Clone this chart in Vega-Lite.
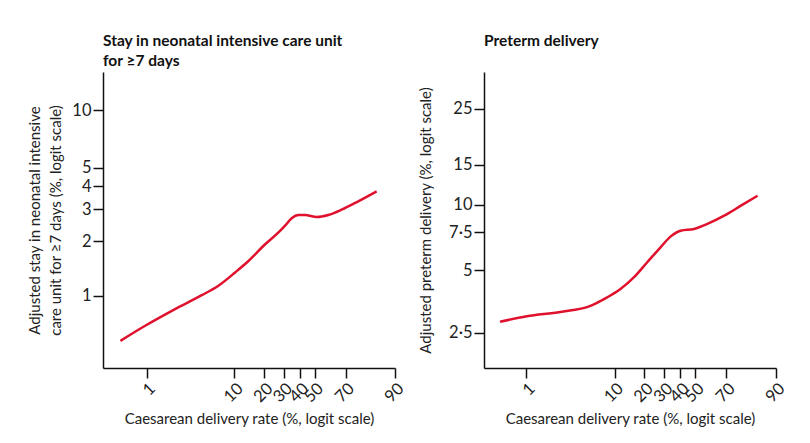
{
  "$schema": "https://vega.github.io/schema/vega-lite/v6.json",
  "background": "white",
  "padding": {"left": 27, "top": 33, "right": 5, "bottom": 5},
  "datasets": {
    "nicu": [
      {"caesarean_rate": 0.49, "outcome": 0.563},
      {"caesarean_rate": 0.96, "outcome": 0.683},
      {"caesarean_rate": 2.15, "outcome": 0.845},
      {"caesarean_rate": 4.36, "outcome": 1.01},
      {"caesarean_rate": 6.71, "outcome": 1.14},
      {"caesarean_rate": 10.2, "outcome": 1.35},
      {"caesarean_rate": 14.05, "outcome": 1.56},
      {"caesarean_rate": 20.5, "outcome": 1.93},
      {"caesarean_rate": 27.1, "outcome": 2.24},
      {"caesarean_rate": 30.8, "outcome": 2.44},
      {"caesarean_rate": 34.8, "outcome": 2.68},
      {"caesarean_rate": 39.1, "outcome": 2.79},
      {"caesarean_rate": 43.4, "outcome": 2.79},
      {"caesarean_rate": 51.4, "outcome": 2.72},
      {"caesarean_rate": 59.2, "outcome": 2.79},
      {"caesarean_rate": 67.6, "outcome": 2.98},
      {"caesarean_rate": 76.7, "outcome": 3.31},
      {"caesarean_rate": 84.5, "outcome": 3.75}
    ],
    "preterm": [
      {"caesarean_rate": 0.49, "outcome": 2.83},
      {"caesarean_rate": 1.01, "outcome": 3.01},
      {"caesarean_rate": 2.47, "outcome": 3.16},
      {"caesarean_rate": 5.45, "outcome": 3.38},
      {"caesarean_rate": 8.32, "outcome": 3.71},
      {"caesarean_rate": 11.55, "outcome": 4.07},
      {"caesarean_rate": 15.8, "outcome": 4.62},
      {"caesarean_rate": 21.3, "outcome": 5.45},
      {"caesarean_rate": 28.0, "outcome": 6.40},
      {"caesarean_rate": 33.9, "outcome": 7.19},
      {"caesarean_rate": 40.2, "outcome": 7.64},
      {"caesarean_rate": 49.2, "outcome": 7.78},
      {"caesarean_rate": 58.2, "outcome": 8.20},
      {"caesarean_rate": 68.7, "outcome": 8.94},
      {"caesarean_rate": 77.6, "outcome": 9.92},
      {"caesarean_rate": 84.5, "outcome": 10.98}
    ]
  },
  "spacing": 89,
  "bounds": "flush",
  "hconcat": [
    {
      "data": {"name": "nicu"},
      "width": 292,
      "height": 296,
      "title": {"text": ["Stay in neonatal intensive care unit", "for ≥7 days"], "offset": 3, "lineHeight": 20},
      "transform": [
        {"calculate": "log(datum.caesarean_rate/(100-datum.caesarean_rate))", "as": "logit_x"},
        {"calculate": "log(datum.outcome/(100-datum.outcome))", "as": "logit_y"}
      ],
      "mark": {"type": "line", "interpolate": "monotone", "color": "#e0112d", "strokeWidth": 2.5},
      "encoding": {
        "x": {
          "field": "logit_x", "type": "quantitative",
          "scale": {"domain": [-5.79, 2.1973], "nice": false, "zero": false},
          "axis": {
            "title": "Caesarean delivery rate (%, logit scale)",
            "values": [-4.59512, -2.19722, -1.38629, -0.847298, -0.405465, 0, 0.847298, 2.19722],
            "labelExpr": "replace(toString(round(200/(1+exp(-datum.value)))/2), '.', '·')",
            "labelAngle": -45
          }
        },
        "y": {
          "field": "logit_y", "type": "quantitative",
          "scale": {"domain": [-5.524, -1.707], "nice": false, "zero": false},
          "axis": {
            "title": ["Adjusted stay in neonatal intensive", "care unit for ≥7 days (%, logit scale)"],
            "titleLineHeight": 21,
            "titlePadding": 8,
            "values": [-4.59512, -3.89182, -3.47610, -3.17805, -2.94444, -2.19722],
            "labelExpr": "replace(toString(round(200/(1+exp(-datum.value)))/2), '.', '·')"
          }
        }
      }
    },
    {
      "data": {"name": "preterm"},
      "width": 292,
      "height": 296,
      "title": {"text": "Preterm delivery", "offset": 23},
      "transform": [
        {"calculate": "log(datum.caesarean_rate/(100-datum.caesarean_rate))", "as": "logit_x"},
        {"calculate": "log(datum.outcome/(100-datum.outcome))", "as": "logit_y"}
      ],
      "mark": {"type": "line", "interpolate": "monotone", "color": "#e0112d", "strokeWidth": 2.5},
      "encoding": {
        "x": {
          "field": "logit_x", "type": "quantitative",
          "scale": {"domain": [-5.75, 2.1973], "nice": false, "zero": false},
          "axis": {
            "title": "Caesarean delivery rate (%, logit scale)",
            "values": [-4.59512, -2.19722, -1.38629, -0.847298, -0.405465, 0, 0.847298, 2.19722],
            "labelExpr": "replace(toString(round(200/(1+exp(-datum.value)))/2), '.', '·')",
            "labelAngle": -45
          }
        },
        "y": {
          "field": "logit_y", "type": "quantitative",
          "scale": {"domain": [-4.065, -0.675], "nice": false, "zero": false},
          "axis": {
            "title": "Adjusted preterm delivery (%, logit scale)",
            "titlePadding": 15,
            "values": [-3.66356, -2.94444, -2.51231, -2.19722, -1.73460, -1.09861],
            "labelExpr": "replace(toString(round(200/(1+exp(-datum.value)))/2), '.', '·')"
          }
        }
      }
    }
  ],
  "config": {
    "font": "Lato",
    "view": {"stroke": null},
    "axis": {
      "grid": false,
      "domainColor": "#111111",
      "domainWidth": 1.5,
      "tickColor": "#111111",
      "tickWidth": 1.5,
      "tickSize": 10,
      "labelFont": "Lato",
      "labelFontSize": 16.5,
      "labelColor": "#222222",
      "labelPadding": 2,
      "labelOverlap": false,
      "titleFont": "Lato",
      "titleFontSize": 15,
      "titleFontWeight": "normal",
      "titleColor": "#222222",
      "titlePadding": 6
    },
    "title": {"anchor": "start", "frame": "group", "fontSize": 15.5, "fontWeight": "bold", "color": "#111111", "font": "Lato"}
  }
}
